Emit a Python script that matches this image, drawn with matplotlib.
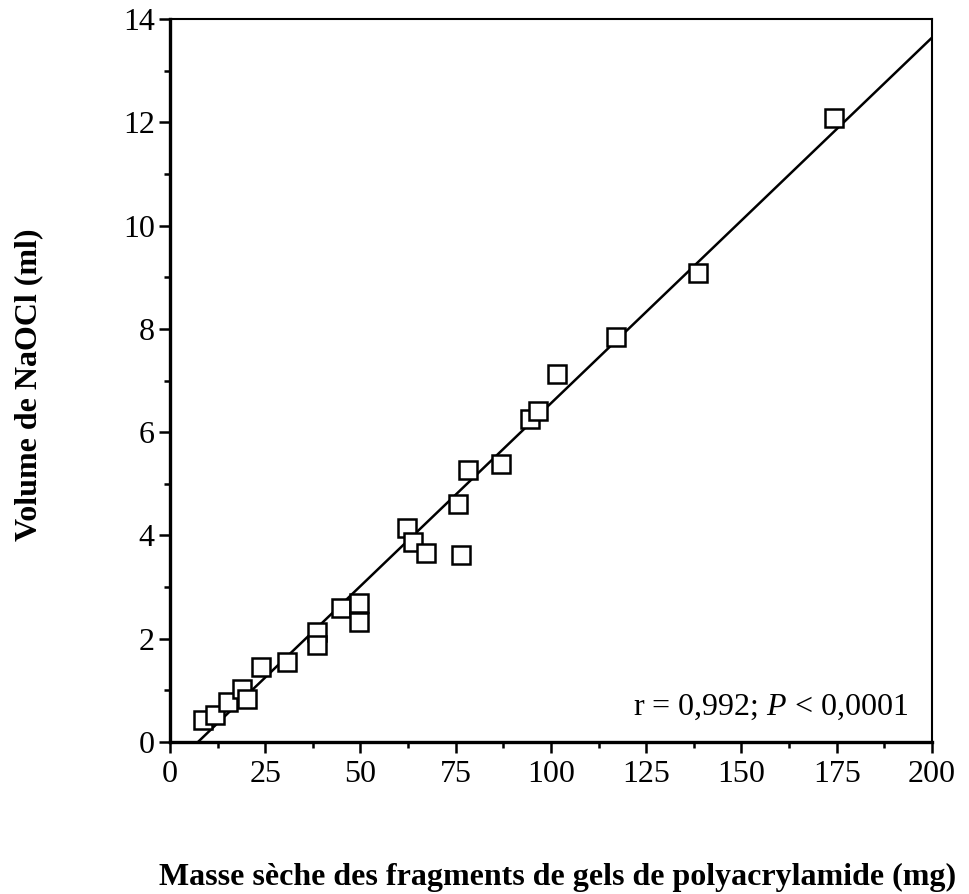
import numpy as np
import matplotlib
matplotlib.use("Agg")
import matplotlib.pyplot as plt
from matplotlib.ticker import MultipleLocator

# dry mass (mg) vs NaOCl volume (ml)
masse = [8.7, 11.8, 15.2, 18.9, 20.2, 23.9, 30.7, 38.6, 38.6, 44.9, 49.6, 49.6,
         62.2, 63.8, 67.2, 76.4, 75.6, 78.2, 86.9, 94.5, 96.6, 101.6, 117.1,
         138.6, 174.3]
volume = [0.43, 0.52, 0.77, 1.03, 0.83, 1.45, 1.55, 2.13, 1.88, 2.59, 2.69, 2.32,
          4.14, 3.87, 3.66, 3.62, 4.61, 5.27, 5.38, 6.25, 6.41, 7.13, 7.84,
          9.08, 12.08]
fit_slope = 0.0708
fit_intercept = -0.52

plt.rcParams['font.family'] = ['Liberation Serif', 'DejaVu Serif']
plt.rcParams['mathtext.fontset'] = 'custom'
plt.rcParams['mathtext.it'] = 'Liberation Serif:italic'
plt.rcParams['mathtext.rm'] = 'Liberation Serif'

fig = plt.figure(figsize=(9.69, 8.94), dpi=100)
ax = fig.add_axes([0.1754, 0.170, 0.7864, 0.8087])

x0 = -fit_intercept / fit_slope
xs = np.array([x0, 200])
ax.plot(xs, fit_slope * xs + fit_intercept, color='black', lw=1.8, zorder=2)
ax.plot(masse, volume, 's', ms=12.5, mfc='white', mec='black', mew=1.8, zorder=3)

ax.set_xlim(0, 200)
ax.set_ylim(0, 14)
ax.xaxis.set_major_locator(MultipleLocator(25))
ax.xaxis.set_minor_locator(MultipleLocator(12.5))
ax.yaxis.set_major_locator(MultipleLocator(2))
ax.yaxis.set_minor_locator(MultipleLocator(1))
ax.tick_params(which='both', direction='out', top=False, right=False,
               labelsize=23, width=1.8)
ax.tick_params(which='major', length=8)
ax.tick_params(which='minor', length=4.5)
ax.tick_params(axis='x', pad=5)
ax.tick_params(axis='y', pad=3)

ax.spines['left'].set_linewidth(2.4)
ax.spines['bottom'].set_linewidth(2.4)
ax.spines['top'].set_linewidth(1.5)
ax.spines['right'].set_linewidth(1.5)

fig.text(0.5754, 0.010, 'Masse sèche des fragments de gels de polyacrylamide (mg)',
         fontsize=23, fontweight='bold', ha='center', va='baseline')
fig.text(0.030, 0.57, 'Volume de NaOCl (ml)', fontsize=23, fontweight='bold',
         rotation=90, ha='center', va='center')

ax.text(0.9685, 0.037, r'r = 0,992; $P$ < 0,0001', transform=ax.transAxes,
        ha='right', va='baseline', fontsize=23)

fig.savefig('out.png', dpi=100)
